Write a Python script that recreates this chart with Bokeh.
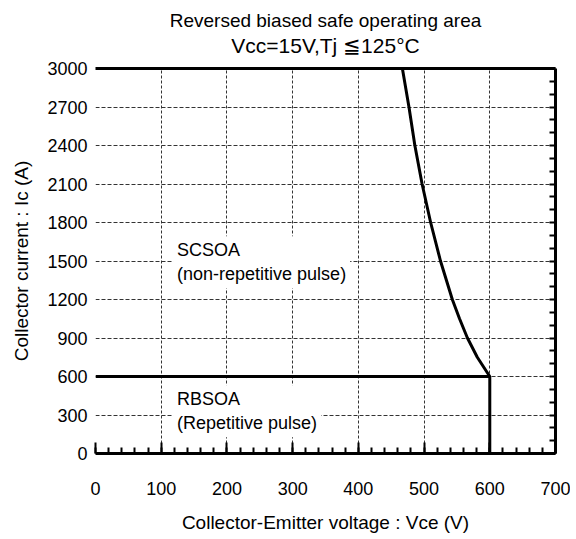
from bokeh.plotting import figure
from bokeh.models import LinearAxis, FixedTicker, Label, Range1d, Title
from bokeh.embed import file_html
from bokeh.resources import INLINE

# ---- data ----
x_ticks = [0, 100, 200, 300, 400, 500, 600, 700]
x_minor = list(range(0, 701, 20))
y_ticks = [0, 300, 600, 900, 1200, 1500, 1800, 2100, 2400, 2700, 3000]
right_ticks = list(range(0, 3001, 100))

# SCSOA boundary (Vce, Ic)
sc_v = [467, 477, 486, 497, 510, 525, 543, 554, 566, 581, 600]
sc_i = [3000, 2700, 2400, 2100, 1800, 1500, 1200, 1050, 900, 750, 600]
# RBSOA boundary
rb_v = [0, 600, 600]
rb_i = [600, 600, 0]

title1 = "Reversed biased safe operating area"
title2 = "Vcc=15V,Tj \u2266125\u00b0C"
xlabel = "Collector-Emitter voltage : Vce (V)"
ylabel = "Collector current : Ic (A)"

FONT = "Liberation Sans"

p = figure(width=570, height=535, output_backend="svg", toolbar_location=None,
           title_location=None,
           x_range=Range1d(0, 700), y_range=Range1d(0, 3000),
           min_border_left=95, min_border_right=15, min_border_top=68,
           min_border_bottom=80, x_axis_label=xlabel, y_axis_label=ylabel)
p.outline_line_color = None

# bottom axis
xa = p.xaxis[0]
xa.ticker = FixedTicker(ticks=x_ticks, minor_ticks=x_minor)
xa.axis_line_width = 3
xa.major_tick_in = 11
xa.major_tick_out = 0
xa.minor_tick_in = 6
xa.minor_tick_out = 0
xa.major_tick_line_width = 2
xa.minor_tick_line_width = 2
xa.major_label_standoff = 28
xa.major_label_text_font = FONT
xa.major_label_text_font_size = "18px"
xa.major_label_text_color = "black"
xa.axis_label_standoff = 14
xa.axis_label_text_font = FONT
xa.axis_label_text_font_size = "19px"
xa.axis_label_text_font_style = "normal"
xa.axis_label_text_color = "black"

# left axis
ya = p.yaxis[0]
ya.ticker = FixedTicker(ticks=y_ticks)
ya.axis_line_color = None
ya.major_tick_line_color = None
ya.minor_tick_line_color = None
ya.major_tick_in = 0
ya.major_tick_out = 0
ya.major_label_standoff = 8
ya.major_label_text_font = FONT
ya.major_label_text_font_size = "18px"
ya.major_label_text_color = "black"
ya.axis_label_standoff = 12
ya.axis_label_text_font = FONT
ya.axis_label_text_font_size = "19px"
ya.axis_label_text_font_style = "normal"
ya.axis_label_text_color = "black"

# top border; its axis label carries the second title line
top = LinearAxis(ticker=FixedTicker(ticks=[]), axis_line_width=3,
                 major_label_text_font_size="0px", major_tick_line_color=None,
                 minor_tick_line_color=None, major_tick_in=0, major_tick_out=0,
                 minor_tick_in=0, minor_tick_out=0,
                 axis_label=title2, axis_label_standoff=12,
                 axis_label_text_font=FONT, axis_label_text_font_size="21px",
                 axis_label_text_font_style="normal", axis_label_text_color="black")
p.add_layout(top, "above")

# right border with inner ticks
right = LinearAxis(ticker=FixedTicker(ticks=right_ticks), axis_line_width=3,
                   major_tick_in=6, major_tick_out=0, major_tick_line_width=2,
                   minor_tick_line_color=None, major_label_text_font_size="0px",
                   major_label_standoff=0)
p.add_layout(right, "right")

# first title line
p.add_layout(Title(text=title1, align="center", standoff=0,
                   text_font=FONT, text_font_size="19px",
                   text_font_style="normal", text_color="black"), "above")

# grids
p.xgrid.ticker = FixedTicker(ticks=x_ticks)
p.xgrid.grid_line_color = "#333333"
p.xgrid.grid_line_dash = "3 2"
p.xgrid.grid_line_width = 1
p.ygrid.ticker = FixedTicker(ticks=y_ticks)
p.ygrid.grid_line_color = "#333333"
p.ygrid.grid_line_dash = "4 2"
p.ygrid.grid_line_width = 1

# curves
p.line(sc_v, sc_i, line_width=3, line_color="black")
p.line(rb_v, rb_i, line_width=3, line_color="black")

# annotations
p.add_layout(Label(x=118, y=1490, text="SCSOA\n(non-repetitive pulse)",
                   text_align="left", text_baseline="middle",
                   text_font=FONT, text_font_size="18px", text_color="black",
                   background_fill_color="white", padding=4))
p.add_layout(Label(x=118, y=330, text="RBSOA\n(Repetitive pulse)",
                   text_align="left", text_baseline="middle",
                   text_font=FONT, text_font_size="18px", text_color="black",
                   background_fill_color="white", padding=4))

open("out.html", "w").write(file_html(p, INLINE))
